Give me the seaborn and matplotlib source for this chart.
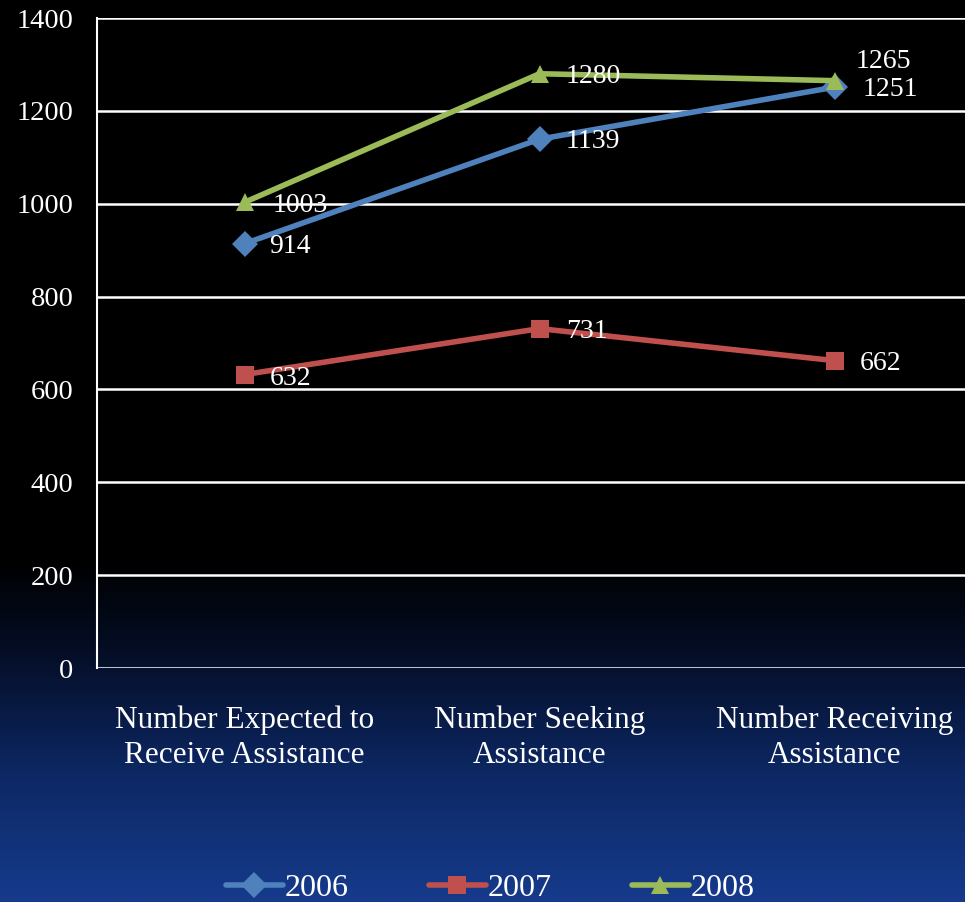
import numpy as np
import pandas as pd
import matplotlib.pyplot as plt
import seaborn as sns
from matplotlib.colors import LinearSegmentedColormap

# Datos del grafico
categories = ["Number Expected to\nReceive Assistance",
              "Number Seeking\nAssistance",
              "Number Receiving\nAssistance"]
years = ["2006", "2007", "2008"]
values_2006 = [914, 1139, 1251]
values_2007 = [632, 731, 662]
values_2008 = [1003, 1280, 1265]

series = {"2006": values_2006, "2007": values_2007, "2008": values_2008}
rows = []
for yr, vals in series.items():
    for i, v in enumerate(vals):
        rows.append({"pos": i, "year": yr, "value": v})
df = pd.DataFrame(rows)

palette = {"2006": "#4F81BD", "2007": "#C0504D", "2008": "#9BBB59"}
markers = {"2006": "D", "2007": "s", "2008": "^"}

sns.set_style("white")
plt.rcParams["font.family"] = ["Liberation Serif", "DejaVu Serif"]

fig = plt.figure(figsize=(9.65, 9.02), dpi=100)

# Fondo degradado negro -> azul
bg = fig.add_axes([0, 0, 1, 1], zorder=-10)
grad = np.linspace(0, 1, 512).reshape(-1, 1)
cmap = LinearSegmentedColormap.from_list(
    "bg", [(0, "#000000"), (0.62, "#000000"), (0.72, "#040d24"),
           (0.85, "#0c2660"), (1.0, "#163b8c")])
bg.imshow(grad, aspect="auto", cmap=cmap, extent=[0, 1, 0, 1], origin="upper")
bg.axis("off")

W, H = 965, 902
ax = fig.add_axes([97 / W, (H - 668) / H, 885 / W, 650 / H])
ax.patch.set_alpha(0)

sns.lineplot(data=df, x="pos", y="value", hue="year", style="year",
             palette=palette, markers=markers, dashes=False, linewidth=4,
             markersize=13, markeredgewidth=0, ax=ax, legend=False)

ax.set_xlim(-0.5, 2.5)
ax.set_ylim(0, 1400)
ax.set_yticks(range(0, 1401, 200))
ax.grid(axis="y", color="white", linewidth=1.8)
ax.set_axisbelow(True)
for s in ["top", "right", "bottom"]:
    ax.spines[s].set_visible(False)
ax.spines["left"].set_color("white")
ax.spines["left"].set_linewidth(1.5)

ax.set_xticks([-0.5, 0.5, 1.5, 2.5])
ax.set_xticklabels([])
ax.tick_params(axis="x", direction="out", length=10, width=1.5, color="white")
ax.tick_params(axis="y", direction="out", length=8, width=1.5, color="white",
               labelcolor="white", labelsize=20.5, pad=9)
for i, c in enumerate(categories):
    ax.text(i, -80, c, ha="center", va="top", color="white", fontsize=22.5,
            linespacing=1.28)
ax.set_xlabel("")
ax.set_ylabel("")

# Etiquetas de datos (desplazamientos en puntos)
offsets = {
    "2006": [(18, -2), (19, -2), (20, -2)],
    "2007": [(18, -3), (19, -2), (18, -2)],
    "2008": [(20, -2), (19, -2), (15, 14)],
}
for yr, vals in series.items():
    for i, v in enumerate(vals):
        ax.annotate(str(v), (i, v), xytext=offsets[yr][i],
                    textcoords="offset points", ha="left", va="center",
                    color="white", fontsize=20)

# Leyenda
handles = [plt.Line2D([], [], color=palette[y], marker=markers[y],
                      linewidth=4, markersize=13, markeredgewidth=0)
           for y in years]
leg = fig.legend(handles, years, loc="lower center", ncol=3, frameon=False,
                 bbox_to_anchor=(0.508, -0.033), fontsize=23, handlelength=1.8,
                 handletextpad=0.05, columnspacing=2.5)
for t in leg.get_texts():
    t.set_color("white")

fig.savefig("out.png", dpi=100)
